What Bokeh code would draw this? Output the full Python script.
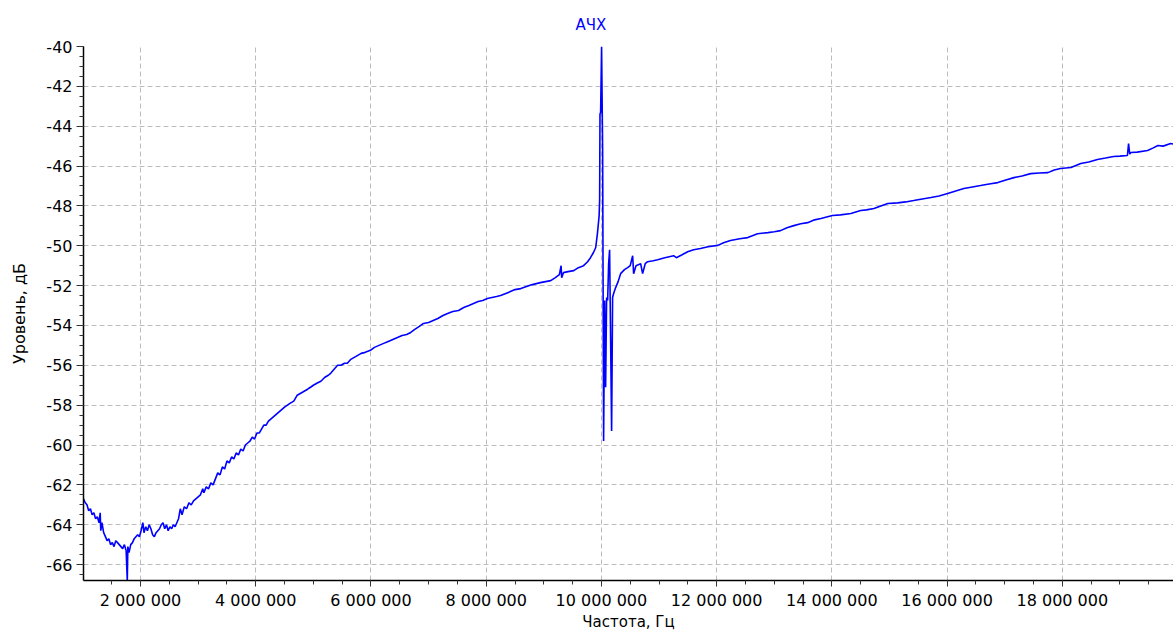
from bokeh.plotting import figure
from bokeh.models import SingleIntervalTicker, CustomJSTickFormatter, Range1d
from bokeh.embed import file_html
from bokeh.resources import INLINE
import numpy as np

# Frequency in MHz (converted to Hz for plotting) and level in dB
freq_mhz = [
    1.01, 1.04, 1.07, 1.10, 1.13, 1.16, 1.19, 1.22, 1.25, 1.28, 1.30, 1.31, 1.33, 1.36, 1.39,
    1.42, 1.45, 1.48, 1.51, 1.54, 1.57, 1.60, 1.63, 1.66, 1.69, 1.72, 1.75, 1.77, 1.78, 1.80,
    1.83, 1.86, 1.89, 1.92, 1.95, 1.98, 2.01, 2.04, 2.06, 2.09, 2.12, 2.15, 2.18, 2.21, 2.24,
    2.27, 2.30, 2.33, 2.36, 2.39, 2.42, 2.45, 2.48, 2.51, 2.54, 2.57, 2.60, 2.63, 2.66, 2.69,
    2.72, 2.76, 2.80, 2.84, 2.88, 2.92, 2.96, 3.00, 3.04, 3.08, 3.10, 3.14, 3.18, 3.22, 3.26,
    3.30, 3.34, 3.38, 3.42, 3.46, 3.50, 3.54, 3.58, 3.62, 3.66, 3.70, 3.74, 3.78, 3.82, 3.86,
    3.90, 3.94, 3.98, 4.02, 4.06, 4.10, 4.14, 4.18, 4.22, 4.26, 4.30, 4.34, 4.38, 4.42, 4.46,
    4.50, 4.55, 4.60, 4.66, 4.72, 4.78, 4.84, 4.90, 4.95, 5.00, 5.06, 5.13, 5.20, 5.26, 5.30,
    5.36, 5.42, 5.48, 5.54, 5.59, 5.65, 5.71, 5.77, 5.83, 5.90, 5.99, 6.06, 6.14, 6.22, 6.30,
    6.38, 6.46, 6.54, 6.62, 6.69, 6.76, 6.84, 6.91, 7.00, 7.08, 7.16, 7.25, 7.33, 7.42, 7.52,
    7.61, 7.70, 7.78, 7.86, 7.94, 8.02, 8.10, 8.18, 8.25, 8.34, 8.42, 8.50, 8.60, 8.70, 8.80,
    8.94, 9.03, 9.12, 9.20, 9.27, 9.30, 9.31, 9.34, 9.42, 9.52, 9.60, 9.69, 9.76, 9.81, 9.86,
    9.90, 9.93, 9.96, 9.969, 9.975, 9.986, 10.003, 10.021, 10.038, 10.056, 10.073, 10.090,
    10.108, 10.125, 10.142, 10.160, 10.177, 10.194, 10.212, 10.247, 10.29, 10.333, 10.40,
    10.455, 10.50, 10.542, 10.559, 10.60, 10.681, 10.715, 10.76, 10.802, 10.90, 10.976, 11.10,
    11.253, 11.30, 11.40, 11.497, 11.60, 11.72, 11.85, 12.02, 12.12, 12.24, 12.40, 12.54,
    12.62, 12.71, 12.89, 13.00, 13.11, 13.22, 13.34, 13.46, 13.58, 13.70, 13.81, 14.01, 14.15,
    14.33, 14.50, 14.60, 14.73, 14.85, 14.97, 15.14, 15.28, 15.42, 15.57, 15.72, 15.86, 16.01,
    16.15, 16.29, 16.44, 16.58, 16.73, 16.88, 17.02, 17.16, 17.30, 17.45, 17.60, 17.75, 17.86,
    17.97, 18.15, 18.32, 18.46, 18.61, 18.75, 18.89, 19.00, 19.13, 19.15, 19.17, 19.19, 19.30,
    19.48, 19.57, 19.66, 19.75, 19.88, 19.93,
]
level_db = [
    -62.7, -62.9, -63.0, -63.3, -63.2, -63.5, -63.4, -63.7, -63.6, -63.9, -63.4, -64.3, -63.9, -64.4, -64.6,
    -64.8, -64.7, -65.0, -64.9, -65.1, -64.8, -64.9, -65.0, -65.1, -65.2, -65.0, -65.3, -66.8, -65.1, -65.4,
    -65.0, -64.9, -64.7, -64.6, -64.5, -64.6, -64.3, -63.9, -64.4, -64.1, -64.3, -64.0, -64.2, -64.5, -64.6,
    -64.4, -64.3, -64.2, -64.0, -63.9, -64.2, -64.0, -64.3, -64.1, -64.2, -64.0, -64.1, -63.9, -63.7, -63.2,
    -63.5, -63.1, -63.2, -62.9, -63.0, -62.8, -62.7, -62.6, -62.5, -62.2, -62.4, -62.1, -62.2, -61.9, -62.0,
    -61.7, -61.4, -61.5, -61.1, -61.2, -60.8, -60.9, -60.6, -60.7, -60.4, -60.5, -60.2, -60.3, -60.0, -59.9,
    -59.8, -59.6, -59.7, -59.4, -59.4, -59.2, -59.0, -59.0, -58.8, -58.7, -58.6, -58.5, -58.4, -58.3, -58.2,
    -58.1, -58.0, -57.9, -57.8, -57.5, -57.4, -57.3, -57.2, -57.1, -57.0, -56.9, -56.8, -56.6, -56.5, -56.4,
    -56.2, -56.0, -56.0, -55.9, -55.9, -55.7, -55.6, -55.5, -55.4, -55.35, -55.25, -55.1, -55.0, -54.9, -54.8,
    -54.7, -54.6, -54.5, -54.45, -54.35, -54.2, -54.05, -53.9, -53.85, -53.75, -53.65, -53.5, -53.4, -53.3, -53.25,
    -53.1, -53.0, -52.9, -52.8, -52.75, -52.65, -52.6, -52.55, -52.5, -52.4, -52.3, -52.2, -52.15, -52.05, -51.95,
    -51.85, -51.8, -51.75, -51.6, -51.45, -51.0, -51.6, -51.35, -51.3, -51.25, -51.1, -51.0, -50.8, -50.6, -50.35,
    -50.1, -49.4, -48.5, -47.7, -43.4, -43.3, -40.0, -45.2, -59.8, -52.75, -57.1, -52.6,
    -52.75, -50.9, -50.2, -54.8, -59.3, -52.6, -52.4, -52.1, -51.8, -51.4, -51.2,
    -51.1, -51.0, -50.5, -51.4, -51.0, -50.9, -51.4, -50.9, -50.8, -50.75, -50.7, -50.6,
    -50.5, -50.6, -50.45, -50.3, -50.2, -50.14, -50.05, -49.98, -49.85, -49.74, -49.65, -49.59,
    -49.5, -49.4, -49.34, -49.3, -49.24, -49.1, -48.99, -48.9, -48.84, -48.7, -48.63, -48.48, -48.45,
    -48.38, -48.23, -48.2, -48.13, -48.0, -47.88, -47.85, -47.8, -47.73, -47.65, -47.58, -47.5, -47.38,
    -47.25, -47.13, -47.05, -46.98, -46.9, -46.83, -46.7, -46.58, -46.5, -46.38, -46.35, -46.33, -46.2,
    -46.12, -46.07, -45.87, -45.8, -45.67, -45.6, -45.52, -45.5, -45.47, -44.87, -45.4, -45.32, -45.3,
    -45.22, -45.1, -44.97, -45.0, -44.87, -44.9,
]

title_text = "АЧХ"
x_label = "Частота, Гц"
y_label = "Уровень, дБ"

freq_hz = np.array(freq_mhz) * 1e6

p = figure(width=1173, height=634, output_backend="svg", toolbar_location=None,
           x_range=Range1d(1.01e6, 19.93e6), y_range=Range1d(-66.8, -40.0),
           min_border_left=83, min_border_right=0, min_border_top=46, min_border_bottom=54)

p.line(freq_hz, level_db, line_color="#0000ff", line_width=1.6)

p.title.text = title_text
p.title.align = "left"
p.title.offset = 492
p.title.text_color = "#0000ff"
p.title.text_font = "DejaVu Sans"
p.title.text_font_style = "normal"
p.title.text_font_size = "15px"
p.title.standoff = 25

p.outline_line_color = None
p.background_fill_color = "white"
p.border_fill_color = "white"

xa = p.xaxis[0]
xa.ticker = SingleIntervalTicker(interval=2e6, num_minor_ticks=4)
xa.formatter = CustomJSTickFormatter(code="return tick.toFixed(0).replace(/\\B(?=(\\d{3})+(?!\\d))/g, ' ');")
xa.axis_label = x_label
ya = p.yaxis[0]
ya.ticker = SingleIntervalTicker(interval=2, num_minor_ticks=4)
ya.formatter = CustomJSTickFormatter(code="return tick.toFixed(0);")
ya.axis_label = y_label

for ax in (xa, ya):
    ax.axis_line_color = "black"
    ax.axis_line_width = 1.5
    ax.major_tick_line_color = "#333333"
    ax.minor_tick_line_color = "#333333"
    ax.major_tick_in = 0
    ax.minor_tick_in = 0
    ax.major_tick_out = 7
    ax.minor_tick_out = 4
    ax.major_label_text_font = "DejaVu Sans"
    ax.major_label_text_font_size = "16px"
    ax.major_label_text_color = "black"
    ax.axis_label_text_font = "DejaVu Sans"
    ax.axis_label_text_font_size = "16px"
    ax.axis_label_text_font_style = "normal"
    ax.axis_label_text_color = "black"

xa.major_tick_out = 6
xa.major_label_standoff = 4
xa.axis_label_standoff = 0
xa.axis_label_text_font_size = "15px"
ya.major_label_standoff = 4
ya.axis_label_standoff = 14

for g in (p.xgrid[0], p.ygrid[0]):
    g.grid_line_color = "#bdbdbd"
    g.grid_line_dash = "5 3"
    g.grid_line_width = 1

open("out.html", "w").write(file_html(p, INLINE))
